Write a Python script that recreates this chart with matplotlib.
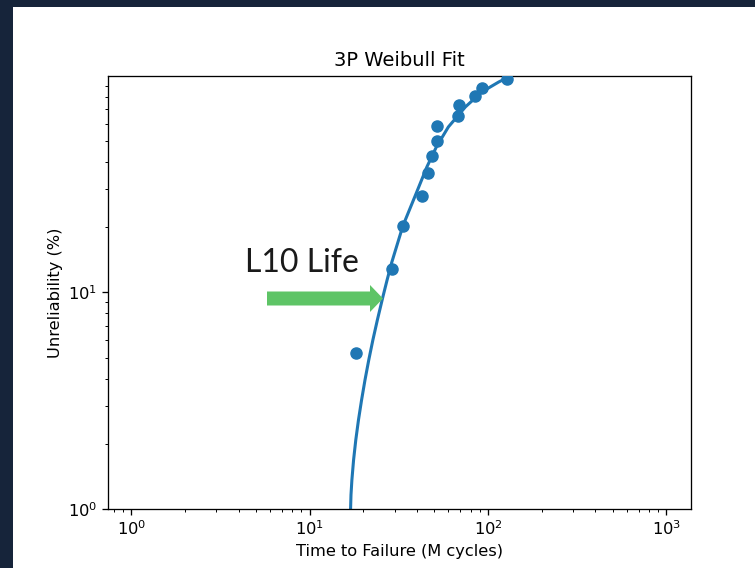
import matplotlib
matplotlib.use("Agg")
import matplotlib.pyplot as plt
import matplotlib.patches as mpatches
import matplotlib.transforms as mtransforms

# failure times (M cycles) and median-rank unreliability (%)
fail_times = [18.16, 28.9, 33.3, 42.6, 46.0, 48.5, 51.7, 51.7, 67.8, 68.7, 84.4, 92.4, 127.6]
unreliability = [5.26, 12.84, 20.3, 27.9, 35.6, 42.7, 50.1, 58.8, 65.3, 73.5, 80.8, 88.0, 96.9]

# fitted 3P Weibull line
fit_times = [16.96, 17.05, 17.25, 17.63, 18.14, 18.78, 19.55, 20.43, 21.45, 22.62,
             23.97, 25.73, 27.18, 28.80, 33.32, 39.66, 45.43, 51.35, 59.96, 74.70,
             92.43, 115.1, 131.0, 141.5]
fit_unrel = [1.0, 1.161, 1.361, 1.684, 2.083, 2.577, 3.188, 3.943, 4.878, 6.034,
             7.464, 9.533, 11.42, 13.69, 20.29, 28.82, 37.99, 47.00, 58.13, 71.92,
             84.37, 93.83, 98.9, 102.1]

BLUE = "#1f77b4"
NAVY = "#16243a"

fig = plt.figure(figsize=(7.55, 5.68), dpi=100)
fig.patch.set_facecolor("white")

# dark slide border on the top and left
fig.patches.append(mpatches.Rectangle((0, 0), 13 / 755, 1, transform=fig.transFigure,
                                      facecolor=NAVY, edgecolor="none", zorder=0))
fig.patches.append(mpatches.Rectangle((0, 1 - 7 / 568), 1, 7 / 568, transform=fig.transFigure,
                                      facecolor=NAVY, edgecolor="none", zorder=0))

ax = fig.add_axes([108 / 755, 59 / 568, 583 / 755, 433 / 568])
ax.set_xscale("log")
ax.set_yscale("log")

ax.plot(fit_times, fit_unrel, color=BLUE, linewidth=2.2, zorder=2)
ax.scatter(fail_times, unreliability, s=64, color=BLUE, zorder=3)

ax.set_xlim(0.74, 1375)
ax.set_ylim(1, 99.9)

ax.set_title("3P Weibull Fit", fontsize=14, pad=7)
ax.set_xlabel("Time to Failure (M cycles)", fontsize=11.7)
ax.set_ylabel("Unreliability (%)", fontsize=11.7)
ax.tick_params(which="both", labelsize=11.7)
ax.tick_params(which="major", length=4.1, width=0.94)
ax.tick_params(which="minor", length=2.3, width=0.7)
for sp in ax.spines.values():
    sp.set_linewidth(0.94)

# L10 life annotation (slide overlay)
px = mtransforms.IdentityTransform()
arrow = mpatches.FancyArrow(267, 568 - 298.5, 116, 0, width=14, head_width=27,
                            head_length=13, length_includes_head=True,
                            facecolor="#5ec466", edgecolor="none", transform=px)
fig.patches.append(arrow)
fig.text(245, 568 - 272, "L10 Life", transform=px, fontsize=23,
         family="Lato", color="#1a1a1a", va="baseline", ha="left")

fig.savefig("out.png", dpi=100)
